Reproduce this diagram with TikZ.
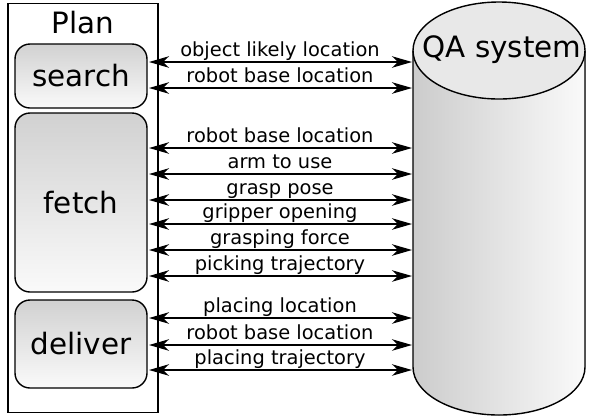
\documentclass[tikz,border=0pt]{standalone}
\usepackage{fontspec}
\setmainfont{DejaVu Sans}
\usetikzlibrary{arrows.meta}
\begin{document}
\begin{tikzpicture}[x=1bp,y=-1bp,
  lw/.style={line width=1.4bp},
  stage/.style={lw,draw=black,rounded corners=15bp,top color=black!18,bottom color=black!2,
    minimum width=132bp,inner sep=0pt,font=\fontsize{29.5}{32}\selectfont},
  arr/.style={lw,{Stealth[length=20bp,width=11.5bp,inset=6bp]}-{Stealth[length=20bp,width=11.5bp,inset=6bp]}},
  lab/.style={anchor=base,inner sep=0pt,font=\fontsize{19.5}{22}\selectfont}]
\useasboundingbox (0,0) rectangle (589,417);
% Plan frame
\node[lw,draw,minimum width=150bp,minimum height=409bp,inner sep=0pt] (plan) at (83,208) {};
\node[anchor=base,inner sep=0pt,font=\fontsize{29.5}{32}\selectfont] (plantitle) at (83,33) {Plan};
\node[stage,minimum height=64bp] (search) at (81,76) {search};
\node[stage,minimum height=179bp] (fetch) at (81,202.5) {fetch};
\node[stage,minimum height=88bp] (deliver) at (81,344) {deliver};
% QA cylinder
\fill[left color=black!20,right color=black!2] (413,50.5) -- (413,367) arc[start angle=180,end angle=360,x radius=86bp,y radius=48bp] -- (585,50.5) -- cycle;
\draw[lw] (413,50.5) -- (413,367) arc[start angle=180,end angle=360,x radius=86bp,y radius=48bp] -- (585,50.5);
\draw[lw,fill=black!9] (499,50.5) ellipse[x radius=86bp,y radius=48.5bp];
\node[font=\fontsize{29.5}{32}\selectfont,inner sep=0pt] (qa) at (502,50) {QA system};
\coordinate (qaL) at (412,0);
\coordinate (pl) at (149,0);
% connectors
\foreach \y/\t [count=\i] in {62/object likely location,88/robot base location,148/robot base location,174/arm to use,200/grasp pose,224/gripper opening,250/grasping force,276/picking trajectory,318/placing location,345/robot base location,370/placing trajectory}{
  \draw[arr] (pl |- 0,\y) -- (qaL |- 0,\y);
  \node[lab] (l\i) at (280,\y-6) {\t};
}
\end{tikzpicture}
\end{document}
